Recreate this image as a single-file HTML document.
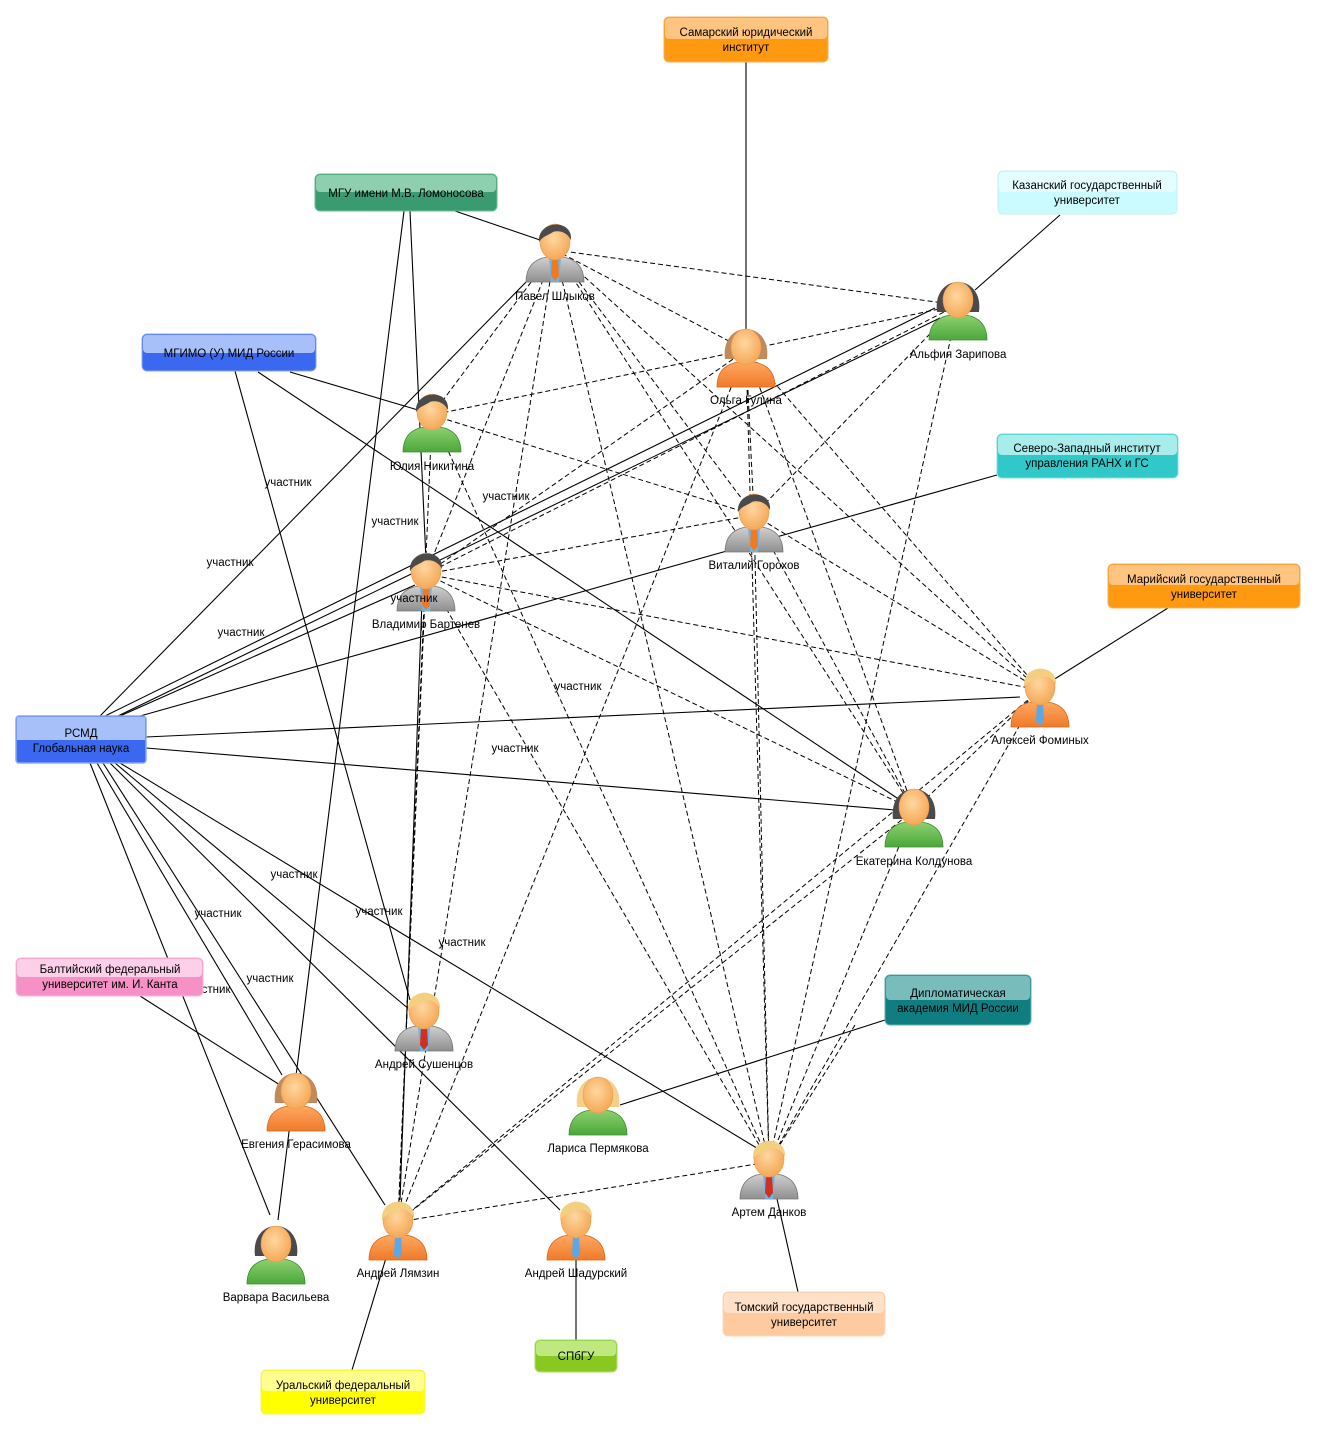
<!DOCTYPE html>
<html><head><meta charset="utf-8"><style>
body{margin:0;background:#fff;}
svg{display:block;font-family:"Liberation Sans",sans-serif;}
.t{font-size:11.5px;fill:#000;text-anchor:middle}
.u{font-size:11.5px;fill:#000;text-anchor:middle}
</style></head><body>
<svg width="1317" height="1431" viewBox="0 0 1317 1431" xmlns="http://www.w3.org/2000/svg">
<defs>
<radialGradient id="skin" cx="0.45" cy="0.4" r="0.7"><stop offset="0" stop-color="#ffd7a0"/><stop offset="1" stop-color="#f3a04a"/></radialGradient>
<linearGradient id="gray" x1="0" y1="0" x2="0" y2="1"><stop offset="0" stop-color="#d0d0d0"/><stop offset="1" stop-color="#8f8f8f"/></linearGradient>
<linearGradient id="org" x1="0" y1="0" x2="0" y2="1"><stop offset="0" stop-color="#ffa860"/><stop offset="1" stop-color="#f07a2a"/></linearGradient>
<linearGradient id="grn" x1="0" y1="0" x2="0" y2="1"><stop offset="0" stop-color="#8fd070"/><stop offset="1" stop-color="#4aa83a"/></linearGradient>
<g id="bgray"><path d="M-29,42 C-29,26 -20,19 -8,17 L8,17 C20,19 29,26 29,42 Z" fill="url(#gray)" stroke="#777" stroke-width="0.8"/><path d="M-6,17 L6,17 L4,42 L-4,42 Z" fill="#6fb4e8"/></g>
<g id="borg"><path d="M-29,42 C-29,26 -20,19 -8,17 L8,17 C20,19 29,26 29,42 Z" fill="url(#org)" stroke="#d8681e" stroke-width="0.8"/></g>
<g id="bgrn"><path d="M-29,42 C-29,26 -20,19 -8,17 L8,17 C20,19 29,26 29,42 Z" fill="url(#grn)" stroke="#3d9030" stroke-width="0.8"/></g>
<g id="head"><ellipse cx="0" cy="2" rx="15" ry="18" fill="url(#skin)" stroke="#e89a50" stroke-width="0.6"/></g>
<g id="mdark"><path d="M-16,2 C-18,-20 18,-22 16,0 C12,-8 4,-10 -2,-8 C-8,-4 -12,-4 -16,2 Z" fill="#4a4a4a"/></g>
<g id="mblond"><path d="M-16,2 C-18,-22 18,-22 16,0 C12,-9 4,-10 -2,-7 C-8,-3 -12,-4 -16,2 Z" fill="#f4cf80"/></g>
<g id="fdarkback"><path d="M-21,14 C-26,-26 26,-26 21,14 Z" fill="#4a4a4a"/></g>
<g id="fbrownback"><path d="M-21,14 C-26,-26 26,-26 21,14 Z" fill="#c08a5c"/></g>
<g id="fblondback"><path d="M-21,14 C-26,-26 26,-26 21,14 Z" fill="#f4d08a"/></g>
<g id="tieO"><path d="M-3,18 L3,18 L4,36 L0,41 L-4,36 Z" fill="#f07a20"/></g>
<g id="tieR"><path d="M-3,18 L3,18 L4,36 L0,41 L-4,36 Z" fill="#d03020"/></g>
<g id="tieB"><path d="M-3,18 L3,18 L4,36 L0,41 L-4,36 Z" fill="#5aa8e8"/></g>
</defs>

<!-- solid lines -->
<g stroke="#000" stroke-width="1.1" fill="none">
<line x1="746" y1="62" x2="746" y2="330"/>
<line x1="455" y1="211" x2="540" y2="240"/>
<line x1="404" y1="211" x2="278" y2="1220"/>
<line x1="410" y1="211" x2="426" y2="560"/>
<line x1="1060" y1="215" x2="975" y2="290"/>
<line x1="235" y1="371" x2="410" y2="1000"/>
<line x1="290" y1="372" x2="418" y2="410"/>
<line x1="258" y1="372" x2="900" y2="800"/>
<line x1="997" y1="475" x2="133" y2="718"/>
<line x1="1168" y1="608" x2="1045" y2="685"/>
<line x1="146" y1="737" x2="1020" y2="697"/>
<line x1="146" y1="748" x2="895" y2="810"/>
<line x1="100" y1="716" x2="530" y2="278"/>
<line x1="105" y1="716" x2="935" y2="308"/>
<line x1="118" y1="716" x2="940" y2="318"/>
<line x1="120" y1="716" x2="415" y2="585"/>
<line x1="885" y1="1020" x2="620" y2="1105"/>
<line x1="140" y1="996" x2="280" y2="1085"/>
<line x1="798" y1="1292" x2="775" y2="1190"/>
<line x1="576" y1="1340" x2="576" y2="1258"/>
<line x1="352" y1="1370" x2="386" y2="1258"/>
<line x1="90" y1="763" x2="270" y2="1215"/>
<line x1="97" y1="763" x2="282" y2="1075"/>
<line x1="103" y1="763" x2="385" y2="1205"/>
<line x1="110" y1="763" x2="560" y2="1210"/>
<line x1="120" y1="763" x2="760" y2="1150"/>
<line x1="115" y1="763" x2="410" y2="1010"/>
<line x1="422" y1="600" x2="400" y2="1200"/>
</g>
<!-- dashed lines -->
<g stroke="#000" stroke-width="1" stroke-dasharray="5,3" fill="none">
<line x1="555" y1="250" x2="958" y2="305"/>
<line x1="555" y1="250" x2="746" y2="350"/>
<line x1="555" y1="250" x2="754" y2="515"/>
<line x1="555" y1="250" x2="1040" y2="690"/>
<line x1="555" y1="250" x2="914" y2="810"/>
<line x1="555" y1="250" x2="769" y2="1162"/>
<line x1="555" y1="250" x2="398" y2="1222"/>
<line x1="555" y1="250" x2="426" y2="574"/>
<line x1="555" y1="250" x2="432" y2="415"/>
<line x1="746" y1="350" x2="432" y2="415"/>
<line x1="746" y1="350" x2="958" y2="305"/>
<line x1="746" y1="350" x2="754" y2="515"/>
<line x1="746" y1="350" x2="426" y2="574"/>
<line x1="746" y1="350" x2="914" y2="810"/>
<line x1="746" y1="350" x2="769" y2="1162"/>
<line x1="746" y1="350" x2="398" y2="1222"/>
<line x1="746" y1="350" x2="1040" y2="690"/>
<line x1="958" y1="305" x2="426" y2="574"/>
<line x1="958" y1="305" x2="754" y2="515"/>
<line x1="958" y1="305" x2="769" y2="1162"/>
<line x1="432" y1="415" x2="754" y2="515"/>
<line x1="432" y1="415" x2="398" y2="1222"/>
<line x1="432" y1="415" x2="769" y2="1162"/>
<line x1="754" y1="515" x2="426" y2="574"/>
<line x1="754" y1="515" x2="769" y2="1162"/>
<line x1="754" y1="515" x2="914" y2="810"/>
<line x1="754" y1="515" x2="1040" y2="690"/>
<line x1="426" y1="574" x2="1040" y2="690"/>
<line x1="426" y1="574" x2="914" y2="810"/>
<line x1="426" y1="574" x2="769" y2="1162"/>
<line x1="426" y1="574" x2="398" y2="1222"/>
<line x1="1040" y1="690" x2="769" y2="1162"/>
<line x1="1040" y1="690" x2="398" y2="1222"/>
<line x1="1040" y1="690" x2="914" y2="810"/>
<line x1="914" y1="810" x2="398" y2="1222"/>
<line x1="914" y1="810" x2="769" y2="1162"/>
<line x1="398" y1="1222" x2="769" y2="1162"/>
<line x1="855" y1="1025" x2="769" y2="1162"/>
</g>

<!-- persons -->
<!-- Павел -->
<g transform="translate(555,240)"><use href="#bgray"/><use href="#tieO"/><use href="#head"/><use href="#mdark"/></g>
<g transform="translate(746,345)"><use href="#fbrownback"/><use href="#borg"/><use href="#head"/></g>
<g transform="translate(958,298)"><use href="#fdarkback"/><use href="#bgrn"/><use href="#head"/></g>
<g transform="translate(432,410)"><use href="#bgrn"/><use href="#head"/><use href="#mdark"/></g>
<g transform="translate(754,510)"><use href="#bgray"/><use href="#tieO"/><use href="#head"/><use href="#mdark"/></g>
<g transform="translate(426,569)"><use href="#bgray"/><use href="#tieO"/><use href="#head"/><use href="#mdark"/></g>
<g transform="translate(1040,685)"><use href="#borg"/><use href="#tieB"/><use href="#head"/><use href="#mblond"/></g>
<g transform="translate(914,805)"><use href="#fdarkback"/><use href="#bgrn"/><use href="#head"/></g>
<g transform="translate(424,1009)"><use href="#bgray"/><use href="#tieR"/><use href="#head"/><use href="#mblond"/></g>
<g transform="translate(598,1093)"><use href="#fblondback"/><use href="#bgrn"/><use href="#head"/></g>
<g transform="translate(296,1089)"><use href="#fbrownback"/><use href="#borg"/><use href="#head"/></g>
<g transform="translate(769,1157)"><use href="#bgray"/><use href="#tieR"/><use href="#head"/><use href="#mblond"/></g>
<g transform="translate(398,1218)"><use href="#borg"/><use href="#tieB"/><use href="#head"/><use href="#mblond"/></g>
<g transform="translate(576,1218)"><use href="#borg"/><use href="#tieB"/><use href="#head"/><use href="#mblond"/></g>
<g transform="translate(276,1242)"><use href="#fdarkback"/><use href="#bgrn"/><use href="#head"/></g>

<g class="t">
<text x="555" y="300">Павел Шлыков</text>
<text x="746" y="404">Ольга Гулина</text>
<text x="958" y="358">Альфия Зарипова</text>
<text x="432" y="470">Юлия Никитина</text>
<text x="754" y="569">Виталий Горохов</text>
<text x="426" y="628">Владимир Бартенев</text>
<text x="1040" y="744">Алексей Фоминых</text>
<text x="914" y="865">Екатерина Колдунова</text>
<text x="424" y="1068">Андрей Сушенцов</text>
<text x="598" y="1152">Лариса Пермякова</text>
<text x="296" y="1148">Евгения Герасимова</text>
<text x="769" y="1216">Артем Данков</text>
<text x="398" y="1277">Андрей Лямзин</text>
<text x="576" y="1277">Андрей Шадурский</text>
<text x="276" y="1301">Варвара Васильева</text>
</g>

<g class="u">
<text x="288" y="486">участник</text>
<text x="230" y="566">участник</text>
<text x="395" y="525">участник</text>
<text x="506" y="500">участник</text>
<text x="241" y="636">участник</text>
<text x="414" y="602">участник</text>
<text x="578" y="690">участник</text>
<text x="515" y="752">участник</text>
<text x="294" y="878">участник</text>
<text x="218" y="917">участник</text>
<text x="379" y="915">участник</text>
<text x="462" y="946">участник</text>
<text x="270" y="982">участник</text>
<text x="207" y="993">участник</text>
</g>

<!-- org boxes -->
<g font-size="11.5" text-anchor="middle">
<!-- Самарский -->
<rect x="664" y="17" width="164" height="45" rx="5" fill="#ff9a10" stroke="#f0b060"/><rect x="665" y="18" width="162" height="21" rx="4" fill="#ffc480"/>
<text x="746" y="36">Самарский юридический</text><text x="746" y="51">институт</text>
<!-- МГУ -->
<rect x="315" y="174" width="182" height="37" rx="5" fill="#3a9a70" stroke="#6abf98"/><rect x="316" y="175" width="180" height="17" rx="4" fill="#8ecfb0"/>
<text x="406" y="197">МГУ имени М.В. Ломоносова</text>
<!-- Казанский -->
<rect x="998" y="171" width="179" height="43" rx="5" fill="#ccfbff" stroke="#c8eef2"/><rect x="999" y="172" width="177" height="20" rx="4" fill="#e6fdff"/>
<text x="1087" y="189">Казанский государственный</text><text x="1087" y="204">университет</text>
<!-- МГИМО -->
<rect x="142" y="334" width="174" height="37" rx="5" fill="#3a68f0" stroke="#8aa8f8"/><rect x="143" y="335" width="172" height="18" rx="4" fill="#a8c0fa"/>
<text x="229" y="357">МГИМО (У) МИД России</text>
<!-- Северо-Западный -->
<rect x="997" y="434" width="181" height="44" rx="5" fill="#30c8c8" stroke="#80e0e0"/><rect x="998" y="435" width="179" height="20" rx="4" fill="#a8ecec"/>
<text x="1087" y="452">Северо-Западный институт</text><text x="1087" y="467">управления РАНХ и ГС</text>
<!-- Марийский -->
<rect x="1108" y="564" width="192" height="44" rx="5" fill="#ff9a10" stroke="#f0b060"/><rect x="1109" y="565" width="190" height="20" rx="4" fill="#ffc480"/>
<text x="1204" y="583">Марийский государственный</text><text x="1204" y="598">университет</text>
<!-- РСМД -->
<rect x="16" y="716" width="130" height="47" rx="3" fill="#3a68f0" stroke="#8aa8f8" stroke-width="1.5"/><rect x="17" y="717" width="128" height="23" fill="#a8c0fa"/>
<text x="81" y="737">РСМД</text><text x="81" y="752">Глобальная наука</text>
<!-- Балтийский -->
<rect x="16" y="958" width="187" height="38" rx="5" fill="#f890c8" stroke="#f8b8d8"/><rect x="17" y="959" width="185" height="18" rx="4" fill="#fcd0e8"/>
<text x="110" y="973">Балтийский федеральный</text><text x="110" y="988">университет им. И. Канта</text>
<!-- Дипломатическая -->
<rect x="885" y="975" width="146" height="50" rx="5" fill="#107e80" stroke="#60b0b0"/><rect x="886" y="976" width="144" height="24" rx="4" fill="#78bcbc"/>
<text x="958" y="997">Дипломатическая</text><text x="958" y="1012">академия МИД России</text>
<!-- Томский -->
<rect x="723" y="1292" width="162" height="44" rx="5" fill="#ffcaa0" stroke="#f8d8c0"/><rect x="724" y="1293" width="160" height="20" rx="4" fill="#ffe0c8"/>
<text x="804" y="1311">Томский государственный</text><text x="804" y="1326">университет</text>
<!-- СПбГУ -->
<rect x="535" y="1340" width="82" height="32" rx="5" fill="#88c820" stroke="#b0e070"/><rect x="536" y="1341" width="80" height="15" rx="4" fill="#c0e880"/>
<text x="576" y="1360">СПбГУ</text>
<!-- Уральский -->
<rect x="261" y="1370" width="164" height="44" rx="5" fill="#ffff00" stroke="#f0f070"/><rect x="262" y="1371" width="162" height="20" rx="4" fill="#ffff90"/>
<text x="343" y="1389">Уральский федеральный</text><text x="343" y="1404">университет</text>
</g>
</svg>
</body></html>
